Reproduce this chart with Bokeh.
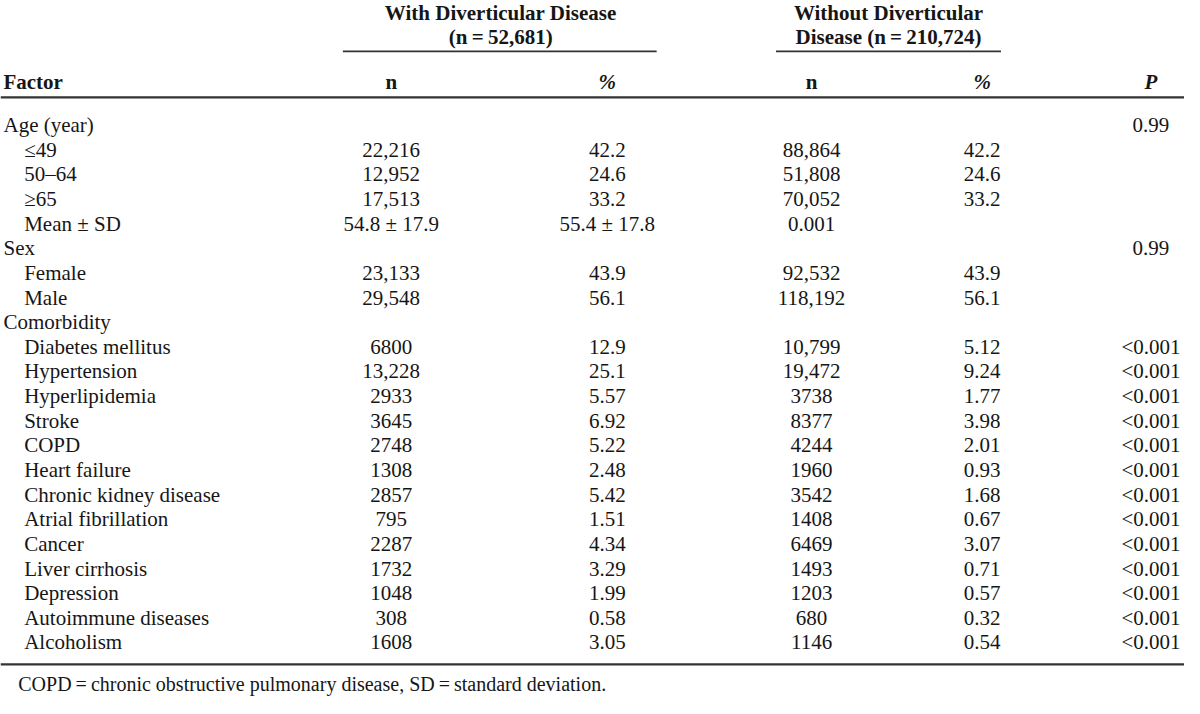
from bokeh.plotting import figure
from bokeh.models import ColumnDataSource, Range1d
from bokeh.core.properties import value
from bokeh.embed import file_html
from bokeh.resources import INLINE

factors = ["Age (year)", "\u226449", "50\u201364", "\u226565", "Mean \u00b1 SD",
           "Sex", "Female", "Male", "Comorbidity",
           "Diabetes mellitus", "Hypertension", "Hyperlipidemia", "Stroke", "COPD",
           "Heart failure", "Chronic kidney disease", "Atrial fibrillation", "Cancer",
           "Liver cirrhosis", "Depression", "Autoimmune diseases", "Alcoholism"]
indent = [0, 1, 1, 1, 1, 0, 1, 1, 0] + [1] * 13
with_n = ["", "22,216", "12,952", "17,513", "54.8 \u00b1 17.9", "", "23,133", "29,548", "",
          "6800", "13,228", "2933", "3645", "2748", "1308", "2857", "795", "2287",
          "1732", "1048", "308", "1608"]
with_pct = ["", "42.2", "24.6", "33.2", "55.4 \u00b1 17.8", "", "43.9", "56.1", "",
            "12.9", "25.1", "5.57", "6.92", "5.22", "2.48", "5.42", "1.51", "4.34",
            "3.29", "1.99", "0.58", "3.05"]
without_n = ["", "88,864", "51,808", "70,052", "0.001", "", "92,532", "118,192", "",
             "10,799", "19,472", "3738", "8377", "4244", "1960", "3542", "1408", "6469",
             "1493", "1203", "680", "1146"]
without_pct = ["", "42.2", "24.6", "33.2", "", "", "43.9", "56.1", "",
               "5.12", "9.24", "1.77", "3.98", "2.01", "0.93", "1.68", "0.67", "3.07",
               "0.71", "0.57", "0.32", "0.54"]
p_values = ["0.99", "", "", "", "", "0.99", "", "", ""] + ["<0.001"] * 13

group_titles = [["With Diverticular Disease", "(n\u2009=\u200952,681)"],
                ["Without Diverticular", "Disease (n\u2009=\u2009210,724)"]]
col_headers = ["Factor", "n", "%", "n", "%", "P"]
footnote = "COPD\u2009=\u2009chronic obstructive pulmonary disease, SD\u2009=\u2009standard deviation."

FONT = value("Liberation Serif")
FS = "21px"
INK = "#161616"

# data coordinates follow the reference picture's pixel grid (1200 x 714)
p = figure(width=1184, height=698, output_backend="svg", toolbar_location=None,
           x_range=Range1d(0, 1200), y_range=Range1d(714, 0), min_border=0)
p.axis.visible = False
p.grid.visible = False
p.outline_line_color = None
p.background_fill_color = "white"

y0, dy = 127.5, 25.2
ys = [y0 + i * dy for i in range(len(factors))]

col_x = [396, 615, 822, 995, 1166]

# factor labels
fx = [3 + 21 * k for k in indent]
p.text(x=fx, y=ys, text=factors, text_font=FONT, text_font_size=FS,
       text_baseline="middle", text_align="left", text_color=INK)

for cx, col in zip(col_x, [with_n, with_pct, without_n, without_pct, p_values]):
    src = ColumnDataSource(dict(x=[cx] * len(col), y=ys, t=col))
    p.text(x="x", y="y", text="t", source=src, text_font=FONT, text_font_size=FS,
           text_baseline="middle", text_align="center", text_color=INK)

# group headers
gx = [507, 900]
for g, (l1, l2) in zip(gx, group_titles):
    p.text(x=[g, g], y=[13, 37], text=[l1, l2], text_font=FONT, text_font_size=FS,
           text_font_style="bold", text_baseline="middle", text_align="center",
           text_color=INK)

# column header row
hy = 83
p.text(x=[3], y=[hy], text=[col_headers[0]], text_font=FONT, text_font_size=FS,
       text_font_style="bold", text_baseline="middle", text_align="left", text_color=INK)
styles = ["bold", "bold italic", "bold", "bold italic", "bold italic"]
for cx, h, st in zip(col_x, col_headers[1:], styles):
    p.text(x=[cx], y=[hy], text=[h], text_font=FONT, text_font_size=FS,
           text_font_style=st, text_baseline="middle", text_align="center", text_color=INK)

# rules
p.segment(x0=[347, 786], y0=[52, 52], x1=[665, 1014], y1=[52, 52],
          line_color="#333333", line_width=1.6)
p.segment(x0=[0, 0], y0=[99, 679], x1=[1200, 1200], y1=[99, 679],
          line_color="#333333", line_width=2.2)

p.text(x=[18], y=[699], text=[footnote], text_font=FONT, text_font_size="20px",
       text_baseline="alphabetic", text_align="left", text_color=INK)

open("out.html", "w").write(file_html(p, INLINE))
